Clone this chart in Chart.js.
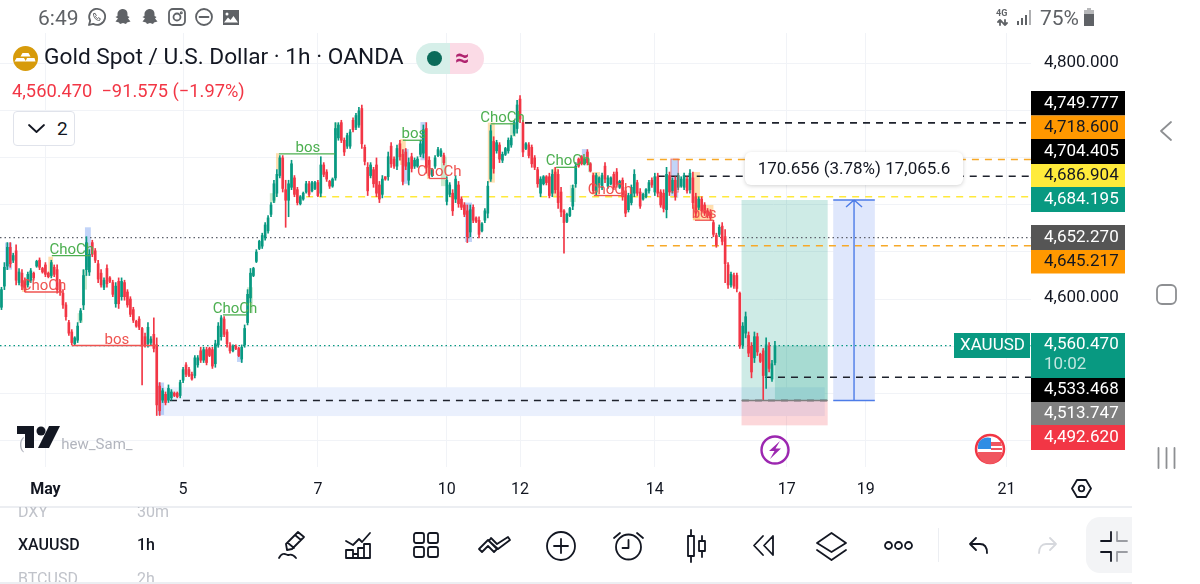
<!DOCTYPE html>
<html>
<head>
<meta charset="utf-8">
<title>XAUUSD 1h</title>
<script src="https://cdn.jsdelivr.net/npm/chart.js@4/dist/chart.umd.min.js"></script>
<style>
  html, body { margin: 0; padding: 0; background: #fff; }
  #page { position: relative; width: 1200px; height: 584px; overflow: hidden; font-family: Roboto, sans-serif; color: #131722; }
  canvas { position: absolute; left: 0; top: 0; }
  .t { position: absolute; white-space: nowrap; line-height: 1; }
  svg.i { position: absolute; overflow: visible; fill: none; stroke: #131722; stroke-width: 1.8; stroke-linecap: round; stroke-linejoin: round; }
  svg.s { stroke: #5f6266; }
</style>
</head>
<body>
<div id="page">
  <canvas id="chart" width="1200" height="584"></canvas>

  <!-- status bar -->
  <div class="t" style="left:38px;top:8px;font-size:21px;color:#5f6266">6:49</div>
  <svg class="i s" style="left:87px;top:8px" width="19" height="19" viewBox="0 0 19 19"><path d="M2 17l1.2-4.2a8 8 0 1 1 3 3z"/><path d="M6.5 6c0 4 3 6.5 6 6.5l.8-1.8-2-1-.8.8c-1-.5-1.6-1.2-2-2l.8-.8-1-2z" stroke-width="1"/></svg>
  <svg class="i" style="left:114px;top:8px;fill:#5f6266;stroke:none" width="18" height="18" viewBox="0 0 18 18"><path d="M9 1c3 0 4.500 2.200 4.500 5v2l2 1-1.500 1.500 2.500 3-3.500 1-1 1.500-3-1-3 1-1-1.500-3.500-1 2.500-3L1.500 9l2-1V6C3.500 3.200 6 1 9 1z"/></svg>
  <svg class="i" style="left:141px;top:8px;fill:#5f6266;stroke:none" width="18" height="18" viewBox="0 0 18 18"><path d="M9 1c3 0 4.500 2.200 4.500 5v2l2 1-1.500 1.500 2.500 3-3.500 1-1 1.500-3-1-3 1-1-1.500-3.500-1 2.500-3L1.500 9l2-1V6C3.500 3.200 6 1 9 1z"/></svg>
  <svg class="i s" style="left:169px;top:9px" width="16" height="16" viewBox="0 0 16 16"><rect x="0" y="0" width="16" height="16" rx="4"/><circle cx="8" cy="8" r="3.500"/><circle cx="12.300" cy="3.700" r=".6"/></svg>
  <svg class="i s" style="left:196px;top:9px" width="16" height="16" viewBox="0 0 16 16"><circle cx="8" cy="8" r="8"/><path d="M3.500 8h9"/></svg>
  <svg class="i" style="left:223px;top:10px;fill:#5f6266;stroke:none" width="16" height="15" viewBox="0 0 16 15"><path d="M0 0h16v15H0z M1 12.500h14L10.500 6 7.500 10 5 7.500z" fill-rule="evenodd"/><circle cx="4" cy="4" r="1.500" fill="#fff"/></svg>
  <div class="t" style="left:996px;top:9px;font-size:9px;font-weight:700;color:#5f6266">4G</div>
  <svg class="i s" style="left:997px;top:19px" width="11" height="7" viewBox="0 0 11 7" stroke-width="1.500"><path d="M3 6V1M1 3l2-2 2 2M8 1v5M6 4l2 2 2-2"/></svg>
  <svg class="i" style="left:1017px;top:10px;fill:#5f6266;stroke:none" width="15" height="15" viewBox="0 0 15 15"><path d="M0 11h2v4H0zM4 8h2v7H4zM8 5h2v10H8z"/><path d="M12 0h2v15h-2z" opacity=".5"/></svg>
  <div class="t" style="left:1040px;top:8px;font-size:21px;color:#5f6266">75%</div>
  <svg class="i" style="left:1083px;top:8px;fill:#5f6266;stroke:none" width="12" height="18" viewBox="0 0 12 18"><path d="M4 0h4v2h3v16H1V2h3z" opacity=".45"/><path d="M1 6h10v12H1z"/></svg>

  <!-- header -->
  <svg class="i" style="left:13px;top:46px;stroke:none" width="25" height="25" viewBox="0 0 25 25"><circle cx="12.500" cy="12.500" r="12.500" fill="#d79b0b"/><path d="M9.500 7h6l2 3.500h-10zM3.500 12h7.500l2 3.500h-11.500zM14 12h7.500l1 3.500H12.500z" fill="#fff"/></svg>
  <div class="t" style="left:44px;top:46px;font-size:22.700px;color:#131722">Gold Spot / U.S. Dollar · 1h · OANDA</div>
  <svg class="i" style="left:416px;top:43px;stroke:none" width="68" height="31" viewBox="0 0 68 31"><path d="M15.500 0H34v31H15.500a15.500 15.500 0 0 1 0-31z" fill="#d6efe9"/><path d="M34 0h18.500a15.500 15.500 0 0 1 0 31H34z" fill="#fbdbe6"/><circle cx="18.500" cy="15.500" r="7.500" fill="#0b6b5a"/></svg>
  <div class="t" style="left:455px;top:45px;font-size:25px;font-weight:700;color:#b0246f">≈</div>
  <div class="t" style="left:12px;top:82px;font-size:18.300px;color:#f23645">4,560.470&nbsp; −91.575 (−1.97%)</div>
  <div style="position:absolute;left:13px;top:111px;width:60px;height:33px;border:1px solid #e0e3eb;border-radius:4px;background:#fff"></div>
  <svg class="i" style="left:28px;top:124px" width="17" height="9" viewBox="0 0 17 9" stroke-width="2.200"><path d="M1 1l7.500 7L16 1"/></svg>
  <div class="t" style="left:57px;top:119px;font-size:19px">2</div>

  <!-- measure label -->
  <div class="t" style="left:745px;top:152px;width:218px;height:33px;background:#fff;border-radius:6px;box-shadow:0 1px 4px rgba(0,0,0,.18);font-size:17px;line-height:33px;text-align:center">170.656 (3.78%) 17,065.6</div>

  <!-- watermark -->
  <div class="t" style="left:19px;top:437px;font-size:15px;color:#b2b5be">( &nbsp; &nbsp; &nbsp; &nbsp; &nbsp;hew_Sam_</div>
  <svg class="i" style="left:17px;top:426px;fill:#131722;stroke:none" width="43" height="22" viewBox="0 0 43 22"><path d="M0 0h17v22H8V8H0z"/><circle cx="24" cy="5" r="4.500"/><path d="M32 0h11L32 22H21z"/></svg>

  <!-- event badges -->
  <svg class="i" style="left:760px;top:435px;stroke:#9c27b0" width="30" height="30" viewBox="0 0 30 30"><circle cx="15" cy="15" r="13.500" stroke-width="2.400"/><path d="M20 6l-11 10h5.500l-4.500 8 11-10.500h-5.500z" fill="#9c27b0" stroke="none"/></svg>
  <svg class="i" style="left:974px;top:433px;stroke:none" width="32" height="32" viewBox="0 0 32 32"><circle cx="16" cy="16" r="14" fill="#fff" stroke="#f23645" stroke-width="2.500"/><path d="M4 19h24a12 12 0 0 1-24 0z" fill="#f0565f"/><path d="M17 9h10l1 4H17zM17 15h11v2H17z" fill="#f0565f"/><path d="M5 9a12 12 0 0 1 12-4v11H4a12 12 0 0 1 1-7z" fill="#2f8de4"/></svg>
  <svg class="i" style="left:1071px;top:479px" width="21" height="19" viewBox="0 0 21 19" stroke-width="1.800"><path d="M6 1h9l5 8.500-5 8.500H6L1 9.500z"/><circle cx="10.500" cy="9.500" r="2.800"/></svg>

  <!-- android nav -->
  <svg class="i" style="left:1159px;top:120px;stroke:#8d8f92" width="14" height="22" viewBox="0 0 14 22" stroke-width="2.500"><path d="M12 2L2 11l10 9"/></svg>
  <svg class="i" style="left:1156px;top:284px;stroke:#8d8f92" width="21" height="21" viewBox="0 0 21 21" stroke-width="2.800"><rect x="1" y="1" width="19" height="19" rx="5"/></svg>
  <svg class="i" style="left:1157px;top:448px;stroke:#8d8f92" width="19" height="20" viewBox="0 0 19 20" stroke-width="2.500"><path d="M1.500 0v20M9.500 0v20M17.500 0v20"/></svg>

  <!-- bottom bar -->
  <div style="position:absolute;left:0;top:506px;width:1132px;height:1.500px;background:#eceef2"></div>
  <div style="position:absolute;left:0;top:582px;width:1132px;height:2px;background:#eceef2"></div>
  <div style="position:absolute;left:0;top:507px;width:1132px;height:75px;overflow:hidden">
    <div class="t" style="left:18px;top:-3px;font-size:16px;color:#c0c3ca">DXY</div>
    <div class="t" style="left:137px;top:-3px;font-size:16px;color:#c0c3ca">30m</div>
    <div class="t" style="left:18px;top:30px;font-size:16px;font-weight:500">XAUUSD</div>
    <div class="t" style="left:137px;top:30px;font-size:16px;font-weight:500">1h</div>
    <div class="t" style="left:18px;top:64px;font-size:16px;color:#c0c3ca">BTCUSD</div>
    <div class="t" style="left:137px;top:64px;font-size:16px;color:#c0c3ca">2h</div>
  </div>
  <svg class="i" style="left:278px;top:530px" width="28" height="32" viewBox="0 0 28 32"><path d="M9 20l-1-6L20 2l6 5-12 12zM10 13l6 5M17 5l6 5"/><path d="M1 28c4-7 7-3 9-3s4-2 8 3" stroke-width="1.800"/></svg>
  <svg class="i" style="left:345px;top:531px" width="27" height="28" viewBox="0 0 27 28"><path d="M1 10l7 4 6-6 3 3 8-9"/><path d="M1 19h7v8H1zM8 23h5M13 17h6v10h-6zM19 13h6v14h-6zM8 27h5"/></svg>
  <svg class="i" style="left:413px;top:532px" width="26" height="26" viewBox="0 0 26 26"><rect x="1" y="1" width="10" height="10" rx="2"/><rect x="15" y="1" width="10" height="10" rx="2"/><rect x="1" y="15" width="10" height="10" rx="2"/><rect x="15" y="15" width="10" height="10" rx="2"/></svg>
  <svg class="i" style="left:478px;top:535px" width="33" height="20" viewBox="0 0 33 20"><path d="M1 14l9-9 3 3 6 6-3 3-6-6-6 6zM13 3l6 6 11-7 2 3-12 9-9-8z"/></svg>
  <svg class="i" style="left:546px;top:531px" width="30" height="30" viewBox="0 0 30 30"><circle cx="15" cy="15" r="14"/><path d="M15 8v14M8 15h14"/></svg>
  <svg class="i" style="left:613px;top:531px" width="31" height="30" viewBox="0 0 31 30"><circle cx="15.500" cy="16" r="12.500"/><path d="M15.500 9v8h-6M1 7l6-5M30 7l-6-5"/></svg>
  <svg class="i" style="left:687px;top:530px" width="20" height="32" viewBox="0 0 20 32"><rect x="1" y="6" width="6" height="20"/><path d="M4 0v6M4 26v6M15 6v5M15 21v6"/><rect x="12" y="11" width="6" height="10"/></svg>
  <svg class="i" style="left:753px;top:535px" width="22" height="21" viewBox="0 0 22 21"><path d="M10 1L1 10.500 10 20M20 1l-9 9.500 9 9.500zM20 1v19"/></svg>
  <svg class="i" style="left:816px;top:532px" width="31" height="29" viewBox="0 0 31 29"><path d="M15.500 1L30 11l-14.500 9L1 11zM1 18l14.500 10L30 18"/></svg>
  <svg class="i" style="left:884px;top:541px" width="29" height="9" viewBox="0 0 29 9"><circle cx="4.500" cy="4.500" r="3.500"/><circle cx="14.500" cy="4.500" r="3.500"/><circle cx="24.500" cy="4.500" r="3.500"/></svg>
  <div style="position:absolute;left:938px;top:528px;width:1px;height:34px;background:#eceef2"></div>
  <svg class="i" style="left:969px;top:537px" width="19" height="17" viewBox="0 0 19 17"><path d="M7 1L1 7l6 6M1 7h10c4 0 7 3 7 9"/></svg>
  <svg class="i" style="left:1038px;top:537px;stroke:#d6d8dd" width="19" height="17" viewBox="0 0 19 17"><path d="M12 1l6 6-6 6M18 7H8c-4 0-7 3-7 9"/></svg>
  <div style="position:absolute;left:1086px;top:517px;width:46px;height:56px;background:#f3f4f6;border-radius:14px 0 0 14px"></div>
  <svg class="i" style="left:1100px;top:531px" width="28" height="31" viewBox="0 0 28 31"><path d="M11 1v9H1M1 21h10v9"/><path d="M17 1v9h10M27 21H17v9" stroke="#9b9da3"/></svg>
</div>

<script>
// candles (1h bars, May 1 - May 16)
const opens = [
  4593,4611,4628,4644,4633,4641,4614,4622,4616,4612,
  4616,4622,4628,4633,4626,4629,4622,4620,4627,4625,
  4614,4605,4595,4580,4572,4562,4565,4582,4595,4625,
  4623,4648,4641,4630,4622,4610,4626,4618,4614,4596,
  4615,4602,4614,4606,4600,4591,4581,4583,4575,4568,
  4562,4563,4570,4561,4526,4514,4519,4514,4516,4520,
  4520,4518,4531,4544,4540,4536,4535,4544,4556,4548,
  4557,4558,4557,4545,4561,4568,4583,4572,4561,4556,
  4560,4558,4549,4561,4580,4601,4620,4632,4643,4645,
  4652,4658,4672,4684,4690,4705,4720,4693,4684,4695,
  4703,4693,4681,4685,4691,4698,4692,4694,4699,4690,
  4714,4708,4700,4696,4703,4737,4750,4735,4730,4730,
  4752,4746,4748,4762,4729,4712,4705,4710,4714,4697,
  4689,4704,4704,4730,4719,4713,4732,4723,4725,4701,
  4721,4713,4713,4723,4724,4745,4718,4705,4713,4722,
  4722,4722,4683,4689,4690,4685,4697,4685,4680,4675,
  4657,4678,4669,4667,4658,4667,4673,4702,4734,4726,
  4731,4718,4723,4726,4731,4741,4745,4770,4750,4728,
  4731,4729,4720,4710,4690,4698,4704,4704,4690,4708,
  4706,4691,4675,4666,4671,4679,4698,4719,4721,4715,
  4725,4715,4705,4691,4697,4695,4713,4696,4698,4706,
  4708,4695,4701,4692,4676,4682,4690,4699,4691,4685,
  4687,4692,4701,4691,4704,4691,4690,4676,4705,4692,
  4701,4695,4696,4695,4702,4693,4703,4687,4678,4685,
  4680,4675,4674,4665,4654,4655,4662,4653,4629,4612,
  4620,4620,4605,4561,4571,4569,4560,4550,4568,4553,
  4556,4535,4560,4532,4546
];
const highs = [
  4610,4631,4648,4648,4639,4646,4626,4625,4618,4623,
  4626,4623,4633,4635,4627,4631,4623,4633,4629,4629,
  4616,4608,4597,4582,4574,4568,4580,4592,4625,4653,
  4642,4650,4643,4633,4625,4618,4629,4619,4616,4614,
  4618,4618,4616,4608,4602,4593,4582,4585,4576,4571,
  4580,4568,4584,4567,4529,4524,4521,4527,4523,4521,
  4521,4531,4542,4546,4542,4538,4552,4552,4559,4559,
  4559,4559,4559,4565,4580,4586,4585,4574,4563,4561,
  4561,4559,4561,4578,4608,4626,4627,4642,4650,4656,
  4665,4671,4682,4701,4710,4722,4722,4701,4701,4718,
  4705,4695,4688,4691,4700,4700,4700,4700,4701,4721,
  4716,4710,4701,4703,4750,4750,4752,4737,4741,4744,
  4754,4758,4763,4765,4731,4716,4716,4712,4720,4700,
  4705,4704,4725,4733,4721,4731,4735,4727,4728,4720,
  4724,4720,4721,4735,4748,4750,4721,4711,4722,4729,
  4728,4724,4704,4699,4693,4705,4700,4687,4682,4680,
  4680,4680,4670,4670,4665,4677,4700,4748,4738,4735,
  4733,4725,4729,4737,4739,4752,4769,4773,4752,4733,
  4733,4731,4722,4712,4704,4705,4705,4707,4710,4712,
  4710,4695,4676,4673,4678,4697,4716,4720,4722,4720,
  4727,4716,4707,4707,4704,4707,4716,4705,4704,4708,
  4711,4701,4703,4695,4690,4697,4710,4701,4694,4690,
  4694,4701,4703,4707,4707,4693,4693,4712,4708,4703,
  4704,4707,4704,4707,4704,4710,4708,4690,4687,4687,
  4682,4677,4676,4667,4656,4663,4665,4659,4631,4623,
  4622,4622,4606,4580,4589,4572,4563,4572,4571,4554,
  4558,4567,4563,4548,4564
];
const lows = [
  4591,4608,4625,4627,4631,4612,4612,4608,4606,4610,
  4614,4616,4627,4625,4622,4619,4618,4618,4619,4605,
  4603,4592,4582,4569,4561,4561,4563,4580,4591,4620,
  4620,4636,4631,4614,4610,4608,4610,4614,4602,4593,
  4592,4599,4599,4593,4585,4580,4576,4574,4527,4559,
  4559,4561,4555,4501,4501,4512,4510,4512,4514,4517,
  4516,4516,4529,4534,4534,4531,4533,4542,4546,4546,
  4544,4551,4541,4542,4559,4565,4568,4559,4554,4555,
  4557,4551,4546,4559,4578,4597,4619,4631,4642,4643,
  4650,4656,4670,4682,4687,4703,4691,4661,4670,4693,
  4687,4680,4680,4684,4690,4687,4691,4693,4687,4687,
  4704,4700,4694,4695,4701,4735,4733,4722,4728,4728,
  4742,4744,4746,4728,4714,4688,4703,4695,4687,4682,
  4686,4701,4701,4712,4711,4710,4718,4697,4710,4697,
  4708,4711,4712,4721,4720,4707,4703,4704,4711,4721,
  4721,4714,4680,4687,4671,4682,4678,4676,4670,4648,
  4653,4665,4665,4652,4657,4665,4669,4700,4707,4724,
  4716,4716,4722,4724,4729,4739,4741,4750,4721,4727,
  4720,4712,4710,4695,4687,4697,4697,4686,4687,4690,
  4677,4670,4639,4665,4670,4676,4695,4712,4714,4714,
  4714,4708,4690,4688,4695,4693,4699,4694,4697,4693,
  4695,4694,4684,4670,4674,4680,4687,4688,4677,4684,
  4686,4690,4695,4688,4687,4678,4674,4669,4688,4690,
  4684,4693,4695,4693,4690,4690,4677,4670,4676,4673,
  4671,4669,4667,4653,4644,4653,4646,4614,4609,4610,
  4609,4606,4558,4558,4567,4551,4533,4546,4552,4546,
  4513.7,4524,4538,4530,4544
];
const closes = [
  4608,4627,4644,4630,4637,4616,4623,4611,4608,4621,
  4624,4618,4632,4627,4623,4621,4619,4631,4621,4608,
  4606,4595,4585,4571,4563,4567,4577,4590,4620,4648,
  4638,4638,4633,4617,4612,4616,4613,4615,4604,4611,
  4596,4615,4602,4595,4587,4582,4577,4576,4560,4561,
  4576,4566,4558,4510,4505,4522,4512,4524,4521,4518,
  4517,4529,4540,4536,4535,4532,4550,4550,4548,4557,
  4546,4552,4543,4562,4577,4584,4570,4562,4556,4560,
  4558,4552,4559,4575,4604,4622,4626,4640,4649,4654,
  4663,4669,4680,4698,4706,4720,4694,4684,4698,4715,
  4689,4682,4687,4690,4698,4689,4699,4699,4688,4714,
  4706,4702,4696,4702,4745,4748,4735,4725,4739,4742,
  4744,4756,4760,4732,4717,4692,4714,4698,4690,4685,
  4702,4702,4721,4715,4713,4728,4721,4700,4713,4716,
  4711,4718,4719,4732,4744,4712,4706,4710,4720,4727,
  4726,4716,4701,4697,4675,4702,4681,4678,4672,4653,
  4676,4667,4666,4655,4664,4675,4696,4743,4711,4733,
  4719,4723,4728,4735,4737,4750,4765,4753,4725,4732,
  4722,4715,4712,4698,4702,4704,4699,4688,4706,4693,
  4682,4674,4665,4672,4677,4694,4713,4713,4715,4719,
  4716,4709,4692,4705,4703,4705,4702,4703,4703,4695,
  4697,4700,4687,4673,4688,4695,4706,4690,4679,4689,
  4693,4699,4697,4704,4690,4680,4677,4706,4691,4701,
  4687,4705,4702,4705,4692,4707,4682,4673,4685,4675,
  4673,4671,4669,4655,4646,4661,4649,4630,4612,4621,
  4611,4609,4560,4577,4585,4554,4538,4568,4555,4547,
  4535,4561,4541,4545,4560.47
];

// axes
const dayTicks = [15, 62, 108, 152, 177, 223, 268, 295, 343];
const dayLabels = ['May', '5', '7', '10', '12', '14', '17', '19', '21'];
const priceTicks = [4480, 4520, 4560, 4600, 4640, 4680, 4720, 4760, 4800];
const shownPrices = [4600, 4800];

// horizontal levels: [price, first bar, last bar, kind]
const levels = [
  [4749.777, 178.7, 351.4, 'black'],
  [4718.6, 220.3, 351.4, 'orange'],
  [4704.405, 224, 351.4, 'black'],
  [4686.904, 104, 351.4, 'yellow'],
  [4652.27, -0.5, 351.4, 'grayDots'],
  [4645.217, 220.3, 351.4, 'orange'],
  [4560.47, -0.5, 351.4, 'greenDots'],
  [4533.468, 260.6, 351.4, 'black'],
  [4513.747, 57.5, 282, 'black']
];

// order blocks: [first bar, last bar, top price, bottom price, kind]
const blocks = [
  [1.2, 3.6, 4648, 4625, 'blue'],
  [16, 17.6, 4636, 4619, 'orange'],
  [28.5, 30.5, 4661, 4627, 'blue'],
  [27.5, 29.2, 4625, 4608, 'green'],
  [7, 8.7, 4616, 4606, 'orange'],
  [26, 27.8, 4588, 4580, 'green'],
  [53.4, 55.5, 4529, 4501.5, 'blue'],
  [80.4, 82.4, 4557, 4546.5, 'blue'],
  [83.8, 85.8, 4610, 4588, 'green'],
  [93.7, 94.7, 4724, 4710, 'orange'],
  [91.6, 93.7, 4690, 4682, 'green'],
  [113.5, 114.9, 4750, 4739.5, 'green'],
  [136, 138, 4736, 4714, 'orange'],
  [137, 139, 4727.5, 4698, 'blue'],
  [143, 145, 4750.5, 4718, 'blue'],
  [145.2, 146.3, 4721, 4702, 'orange'],
  [150, 152, 4721, 4696, 'green'],
  [158.2, 160.6, 4682, 4648.5, 'blue'],
  [166, 168.4, 4750, 4699, 'orange'],
  [173.6, 175.6, 4750, 4738, 'green'],
  [198.1, 200.2, 4727.5, 4716, 'blue'],
  [201.5, 204.3, 4708, 4688.5, 'orange'],
  [200.2, 201.5, 4716, 4708, 'green'],
  [194, 196, 4697, 4682.5, 'green'],
  [188.2, 190, 4711, 4687, 'orange'],
  [228.5, 231, 4719, 4686, 'blue'],
  [236, 238.4, 4708, 4667, 'orange'],
  [236, 243, 4680, 4667, 'orange']
];

// structure breaks: [first bar, last bar, price, label, label bar, kind]
const breaks = [
  [17.2, 30.2, 4637, 'ChoCh', 24, 'up'],
  [8, 20.7, 4606, 'ChoCh', 14.5, 'down'],
  [24, 53.4, 4560.5, 'bos', 39.4, 'down'],
  [75.6, 83.8, 4586.5, 'ChoCh', 79.7, 'up'],
  [94.7, 113.8, 4723.5, 'bos', 104.6, 'up'],
  [137, 143.9, 4735, 'bos', 140.8, 'up'],
  [146, 152, 4702.5, 'ChoCh', 149.4, 'down'],
  [167, 175.3, 4749, 'ChoCh', 171, 'up'],
  [189.3, 196.4, 4712, 'ChoCh', 193.4, 'up'],
  [202.2, 212.8, 4688, 'ChoCh', 207.7, 'down'],
  [236.7, 242.8, 4667, 'bos', 239.8, 'down']
];

// trade drawing
const demandZone = [53.6, 281, 4525, 4500.5];
const tradeBars = [252.6, 282];
const lastBar = 264;
const entry = 4513.747, target = 4684.195, stop = 4492.62, lastPrice = 4560.47;
const measureBars = [283.9, 291, 298.1];

// price scale tags
const tagTexts = ['4,749.777', '4,718.600', '4,704.405', '4,686.904', '4,684.195', '4,652.270', '4,645.217', '4,560.470', '4,533.468', '4,513.747', '4,492.620'];
const tagTops = [91, 115.500, 139, 164, 187, 225, 250, 333, 378, 402, 425];
const tagBottoms = [115.500, 139, 164, 187, 212, 250, 273.500, 378, 402, 425, 450];
const tagFills = ['#000000', '#ff9800', '#000000', '#ffeb3b', '#089981', '#555555', '#ff9800', '#089981', '#000000', '#808080', '#f23645'];
const tagInks = ['#ffffff', '#131722', '#ffffff', '#131722', '#ffffff', '#ffffff', '#131722', '#ffffff', '#ffffff', '#ffffff', '#ffffff'];

const GREEN = '#089981', RED = '#f23645';
const bars = opens.map((o, i) => i);
const candleColors = opens.map((o, i) => closes[i] >= o ? GREEN : RED);

const levelStyles = {
  black: { color: '#1e222d', dash: [7, 6], width: 1.6 },
  orange: { color: '#f7a928', dash: [7, 6], width: 1.5 },
  yellow: { color: '#ffe93b', dash: [7, 6], width: 1.5 },
  grayDots: { color: '#5d606b', dash: [1.500, 3], width: 1.2 },
  greenDots: { color: '#089981', dash: [1.500, 3], width: 1.2 }
};
const blockFills = {
  blue: 'rgba(120,160,240,0.45)',
  orange: 'rgba(255,183,77,0.45)',
  green: 'rgba(130,200,130,0.40)'
};
const breakColors = { up: '#4caf50', down: '#ef5350' };

const levelSets = levels.map(l => ({
  type: 'line',
  data: [{ x: l[1], y: l[0] }, { x: l[2], y: l[0] }],
  borderColor: levelStyles[l[3]].color,
  borderDash: levelStyles[l[3]].dash,
  borderWidth: levelStyles[l[3]].width,
  pointRadius: 0,
  order: 3
}));
const breakSets = breaks.map(b => ({
  type: 'line',
  data: [{ x: b[0], y: b[2] }, { x: b[1], y: b[2] }],
  borderColor: breakColors[b[5]],
  borderWidth: 1.3,
  pointRadius: 0,
  order: 0
}));

function rect(c, x0, x1, top, bottom, fill) {
  const xs = c.scales.x, ys = c.scales.y;
  const l = xs.getPixelForValue(x0), t = ys.getPixelForValue(top);
  c.ctx.fillStyle = fill;
  c.ctx.fillRect(l, t, xs.getPixelForValue(x1) - l, ys.getPixelForValue(bottom) - t);
}

const drawings = {
  id: 'drawings',
  beforeDatasetsDraw(c) {
    rect(c, demandZone[0], demandZone[1], demandZone[2], demandZone[3], '#eaf0fd');
    rect(c, tradeBars[0], tradeBars[1], target, entry, 'rgba(8,153,129,0.20)');
    rect(c, lastBar, tradeBars[1], lastPrice, entry, 'rgba(8,153,129,0.20)');
    rect(c, tradeBars[0], tradeBars[1], entry, stop, 'rgba(242,54,69,0.20)');
    rect(c, measureBars[0], measureBars[2], target, entry, '#dfe7fc');
    blocks.forEach(b => rect(c, b[0], b[1], b[2], b[3], blockFills[b[4]]));
  },
  afterDatasetsDraw(c) {
    const ctx = c.ctx, xs = c.scales.x, ys = c.scales.y;
    // position box baseline
    ctx.save();
    ctx.strokeStyle = '#808080';
    ctx.lineWidth = 1.5;
    ctx.beginPath();
    ctx.moveTo(xs.getPixelForValue(tradeBars[0]), ys.getPixelForValue(entry));
    ctx.lineTo(xs.getPixelForValue(tradeBars[1]), ys.getPixelForValue(entry));
    ctx.stroke();
    // measure arrow
    const left = xs.getPixelForValue(measureBars[0]), mid = xs.getPixelForValue(measureBars[1]), right = xs.getPixelForValue(measureBars[2]);
    const top = ys.getPixelForValue(target), bottom = ys.getPixelForValue(entry);
    ctx.strokeStyle = '#4d7ce8';
    ctx.lineWidth = 1.4;
    ctx.beginPath();
    ctx.moveTo(left, top); ctx.lineTo(right, top);
    ctx.moveTo(left, bottom); ctx.lineTo(right, bottom);
    ctx.moveTo(mid, bottom); ctx.lineTo(mid, top);
    ctx.moveTo(mid - 8, top + 7); ctx.lineTo(mid, top); ctx.lineTo(mid + 8, top + 7);
    ctx.stroke();
    // outlined block
    ctx.strokeStyle = 'rgba(239,83,80,0.7)';
    ctx.lineWidth = 1;
    ctx.strokeRect(xs.getPixelForValue(228.5), ys.getPixelForValue(4719), xs.getPixelForValue(231) - xs.getPixelForValue(228.5), ys.getPixelForValue(4691) - ys.getPixelForValue(4719));
    // structure labels
    ctx.font = '15px Roboto';
    ctx.textAlign = 'center';
    ctx.textBaseline = 'alphabetic';
    breaks.forEach(b => {
      ctx.fillStyle = breakColors[b[5]];
      ctx.fillText(b[3], xs.getPixelForValue(b[4]), ys.getPixelForValue(b[2]) - 2);
    });
    ctx.restore();
  },
  afterDraw(c) {
    const ctx = c.ctx;
    ctx.save();
    ctx.textAlign = 'left';
    ctx.textBaseline = 'middle';
    ctx.font = '17px Roboto';
    tagTexts.forEach((t, i) => {
      ctx.fillStyle = tagFills[i];
      ctx.fillRect(1031, tagTops[i], 94, tagBottoms[i] - tagTops[i]);
      ctx.fillStyle = tagInks[i];
      // the live price tag carries the bar countdown under it
      if (i === 7) {
        ctx.fillText(t, 1044, tagTops[i] + 12);
        ctx.fillStyle = 'rgba(255,255,255,0.75)';
        ctx.fillText('10:02', 1044, tagTops[i] + 32);
      } else {
        ctx.fillText(t, 1044, (tagTops[i] + tagBottoms[i]) / 2);
      }
    });
    ctx.fillStyle = GREEN;
    ctx.fillRect(954, 333, 76, 25);
    ctx.fillStyle = '#ffffff';
    ctx.fillText('XAUUSD', 960, 346);
    ctx.restore();
  }
};

new Chart(document.getElementById('chart'), {
  type: 'bar',
  data: {
    datasets: [
      {
        label: 'bodies',
        data: bars.map(i => ({ x: i, y: [opens[i], closes[i]] })),
        backgroundColor: candleColors,
        barThickness: 2,
        grouped: false,
        order: 1
      },
      {
        label: 'wicks',
        data: bars.map(i => ({ x: i, y: [lows[i], highs[i]] })),
        backgroundColor: candleColors,
        barThickness: 1,
        grouped: false,
        order: 2
      },
      ...levelSets,
      ...breakSets
    ]
  },
  options: {
    responsive: false,
    animation: false,
    layout: { padding: { top: 33, left: 0, right: 0, bottom: 0 } },
    plugins: { legend: { display: false }, tooltip: { enabled: false } },
    scales: {
      x: {
        type: 'linear',
        offset: false,
        min: -0.5,
        max: 351.4,
        afterFit(s) { s.height = 117; },
        afterBuildTicks(s) { s.ticks = dayTicks.map(v => ({ value: v })); },
        grid: { color: '#f1f3f7', offset: false, drawTicks: false },
        border: { display: false },
        ticks: {
          autoSkip: false,
          maxRotation: 0,
          padding: 13,
          color: '#131722',
          font: ctx => ({ family: 'Roboto', size: 16, weight: ctx.index === 0 ? '700' : '400' }),
          callback: (v, i) => dayLabels[i]
        }
      },
      y: {
        type: 'linear',
        position: 'right',
        min: 4457.2,
        max: 4826.2,
        afterFit(s) { s.width = 169; },
        afterBuildTicks(s) { s.ticks = priceTicks.map(v => ({ value: v })); },
        grid: { color: '#f1f3f7', drawTicks: false },
        border: { display: false },
        ticks: {
          padding: 13,
          labelOffset: -1,
          color: '#131722',
          font: { family: 'Roboto', size: 17 },
          callback: v => shownPrices.includes(v) ? v.toLocaleString('en-US', { minimumFractionDigits: 3 }) : ''
        }
      }
    }
  },
  plugins: [drawings]
});
</script>
</body>
</html>
